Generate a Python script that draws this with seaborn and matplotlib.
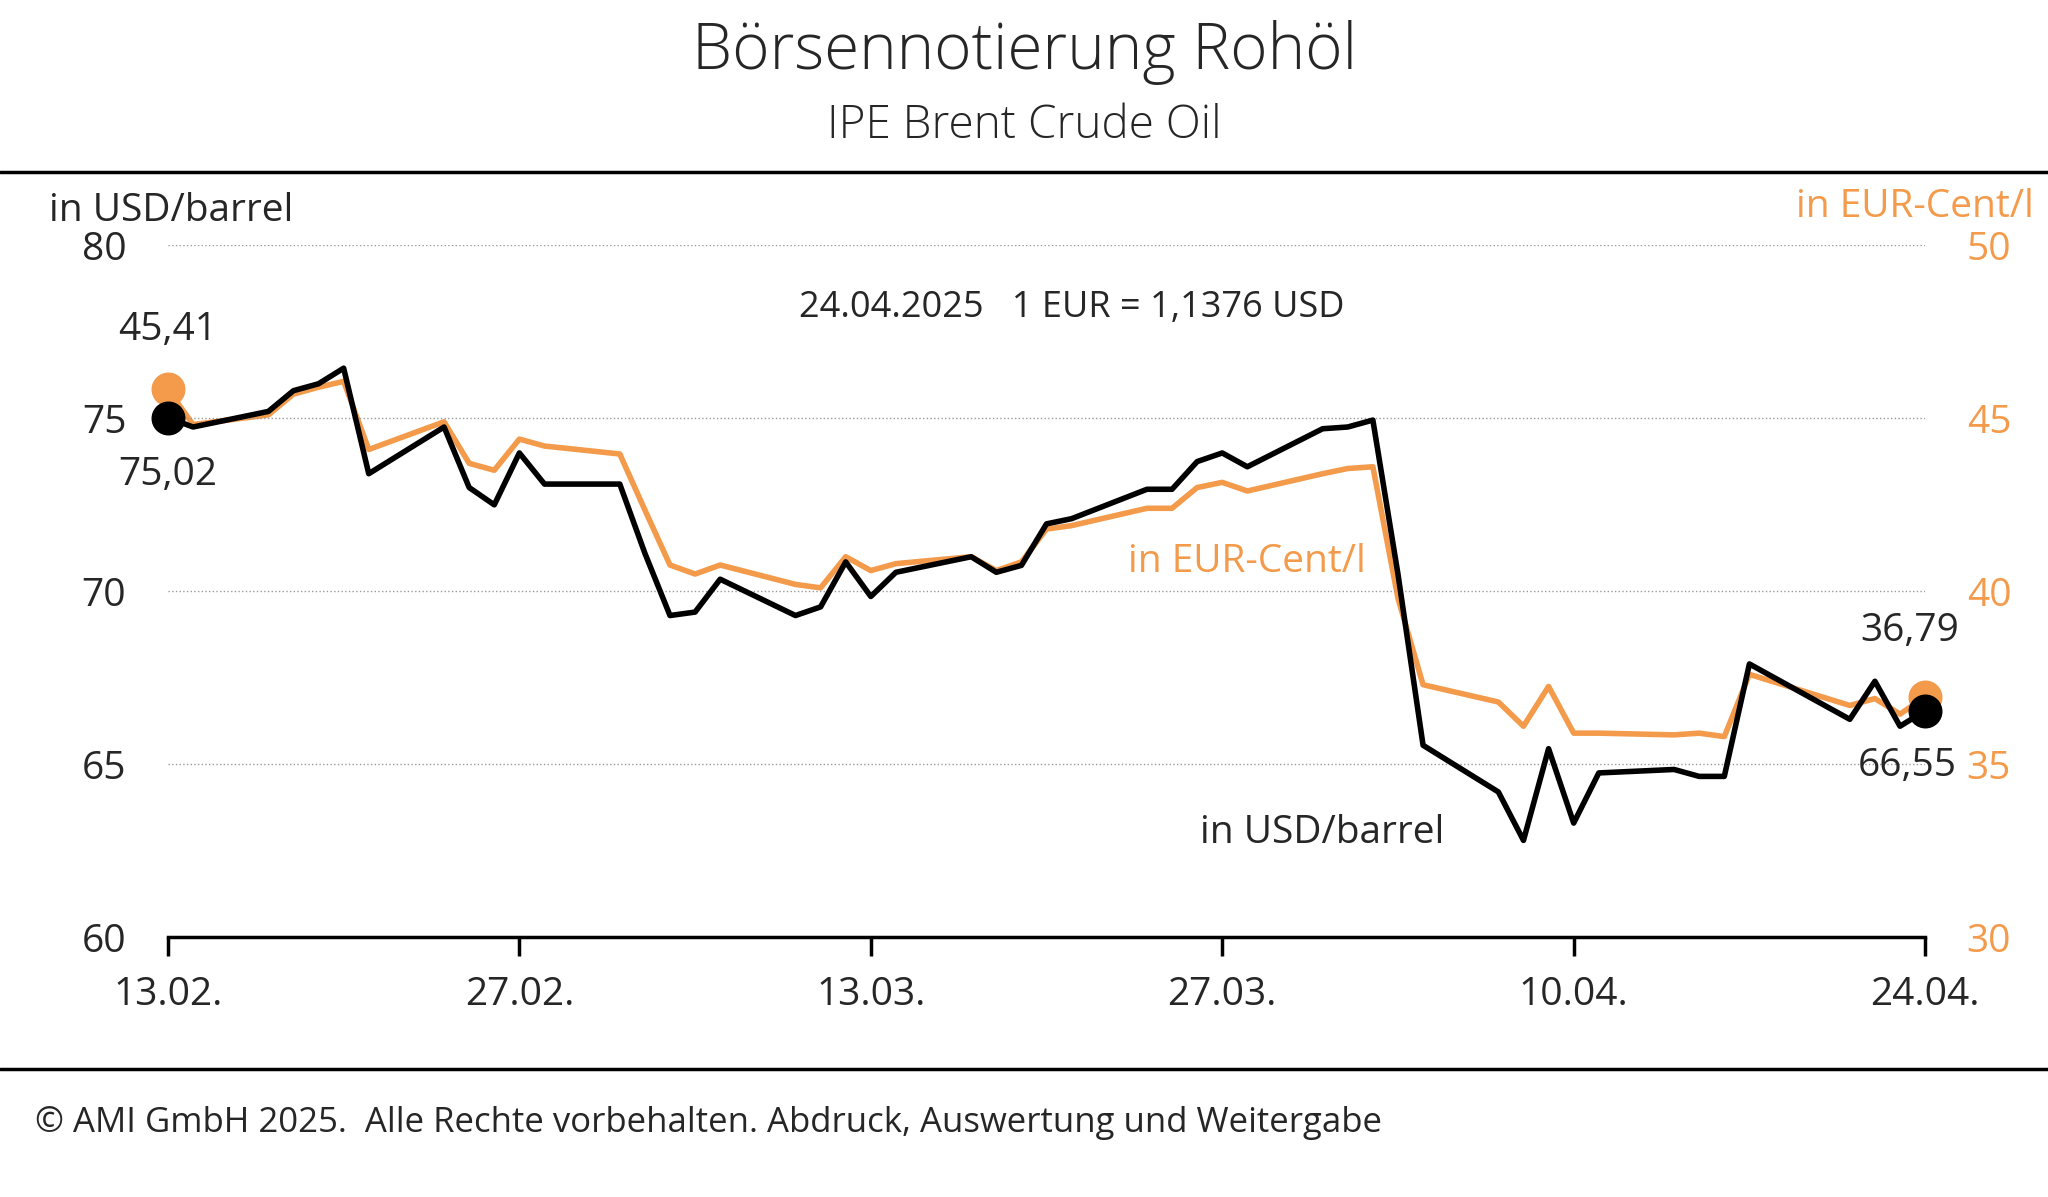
import matplotlib
matplotlib.use("Agg")
import matplotlib.pyplot as plt
import pandas as pd
import seaborn as sns

sns.set_theme(style="white")
plt.rcParams["font.family"] = "Open Sans"

ORANGE = "#F39A4B"

dates = ["2025-02-13", "2025-02-14", "2025-02-17", "2025-02-18", "2025-02-19", "2025-02-20",
         "2025-02-21", "2025-02-24", "2025-02-25", "2025-02-26", "2025-02-27", "2025-02-28",
         "2025-03-03", "2025-03-04", "2025-03-05", "2025-03-06", "2025-03-07", "2025-03-10",
         "2025-03-11", "2025-03-12", "2025-03-13", "2025-03-14", "2025-03-17", "2025-03-18",
         "2025-03-19", "2025-03-20", "2025-03-21", "2025-03-24", "2025-03-25", "2025-03-26",
         "2025-03-27", "2025-03-28", "2025-03-31", "2025-04-01", "2025-04-02", "2025-04-03",
         "2025-04-04", "2025-04-07", "2025-04-08", "2025-04-09", "2025-04-10", "2025-04-11",
         "2025-04-14", "2025-04-15", "2025-04-16", "2025-04-17", "2025-04-21", "2025-04-22",
         "2025-04-23", "2025-04-24"]
usd_barrel = [75.02, 74.75, 75.2, 75.8, 76.0, 76.45, 73.4, 74.75, 73.0, 72.5, 74.0, 73.1,
              73.1, 71.1, 69.3, 69.4, 70.35, 69.3, 69.55, 70.85, 69.85, 70.55, 71.0, 70.55,
              70.75, 71.95, 72.1, 72.95, 72.95, 73.75, 74.0, 73.6, 74.7, 74.75, 74.95, 70.5,
              65.55, 64.2, 62.8, 65.45, 63.3, 64.75, 64.85, 64.65, 64.65, 67.9, 66.3, 67.4,
              66.1, 66.55]
eur_cent_l = [45.84, 44.82, 45.1, 45.7, 45.9, 46.07, 44.1, 44.9, 43.7, 43.5, 44.4, 44.2,
              43.97, 42.35, 40.76, 40.5, 40.76, 40.2, 40.1, 41.0, 40.6, 40.8, 41.0, 40.6,
              40.85, 41.8, 41.9, 42.4, 42.4, 43.0, 43.15, 42.9, 43.4, 43.55, 43.6, 39.8,
              37.3, 36.8, 36.1, 37.25, 35.9, 35.9, 35.85, 35.9, 35.8, 37.6, 36.7, 36.9,
              36.45, 36.95]
tick_dates = ["2025-02-13", "2025-02-27", "2025-03-13", "2025-03-27", "2025-04-10", "2025-04-24"]
tick_labels = ["13.02.", "27.02.", "13.03.", "27.03.", "10.04.", "24.04."]

df = pd.DataFrame({"date": pd.to_datetime(dates), "usd": usd_barrel, "eur": eur_cent_l})

fig = plt.figure(figsize=(20.48, 11.97), dpi=100)
ax = fig.add_axes([0.082, 0.217, 0.858, 0.578])
ax2 = ax.twinx()

sns.lineplot(data=df, x="date", y="usd", ax=ax, color="black", lw=4, zorder=3)
sns.lineplot(data=df, x="date", y="eur", ax=ax2, color=ORANGE, lw=4, zorder=2)
ax.set_zorder(ax2.get_zorder() + 1); ax.patch.set_visible(False)

ax.scatter(df["date"].iloc[[0, -1]], df["usd"].iloc[[0, -1]], s=550, color="black", zorder=5, clip_on=False)
ax2.scatter(df["date"].iloc[[0, -1]], df["eur"].iloc[[0, -1]], s=550, color=ORANGE, zorder=5, clip_on=False)

x0, x1 = pd.Timestamp(tick_dates[0]), pd.Timestamp(tick_dates[-1])
ax.set_xlim(x0, x1)
ax.set_ylim(60, 80)
ax2.set_ylim(30, 50)
ax.set_yticks([60, 65, 70, 75, 80])
ax2.set_yticks([30, 35, 40, 45, 50])
ax.yaxis.grid(True, ls=":", color="#999", lw=1)
ax.set_xticks(pd.to_datetime(tick_dates))
ax.set_xticklabels(tick_labels)
for a in (ax, ax2):
    a.set_xlabel(""); a.set_ylabel("")
    for s in ("top", "left", "right", "bottom"):
        a.spines[s].set_visible(False)
ax.spines["bottom"].set_visible(True)
ax.spines["bottom"].set_color("black")
ax.spines["bottom"].set_linewidth(2.5)
ax.tick_params(axis="x", bottom=True, direction="out", length=14, width=2.5, color="black",
               labelsize=28, pad=14)
ax.tick_params(axis="y", length=0, labelsize=28, pad=30)
ax2.tick_params(axis="y", length=0, labelsize=28, pad=30, labelcolor=ORANGE)

# point labels
ax.text(x0, 77.0, "45,41", fontsize=28, ha="center", va="bottom")
ax.text(x0, 73.9, "75,02", fontsize=28, ha="center", va="top")
ax.text(x1 - pd.Timedelta(days=0.6), 68.3, "36,79", fontsize=28, ha="center", va="bottom")
ax.text(x1 - pd.Timedelta(days=0.7), 65.5, "66,55", fontsize=28, ha="center", va="top")
ax.text(pd.Timestamp("2025-03-28"), 70.85, "in EUR-Cent/l", fontsize=28, color=ORANGE, ha="center", va="center")
ax.text(pd.Timestamp("2025-03-31"), 63.0, "in USD/barrel", fontsize=28, ha="center", va="center")
ax.text(pd.Timestamp("2025-03-21"), 78.2, "24.04.2025   1 EUR = 1,1376 USD", fontsize=26, ha="center", va="center")

fig.text(0.024, 0.824, "in USD/barrel", fontsize=28, ha="left", va="center")
fig.text(0.993, 0.827, "in EUR-Cent/l", fontsize=28, ha="right", va="center", color=ORANGE)
fig.text(0.5, 0.956, "Börsennotierung Rohöl", fontsize=46, fontweight="light", ha="center", va="center")
fig.text(0.5, 0.895, "IPE Brent Crude Oil", fontsize=33, fontweight="light", ha="center", va="center")
fig.text(0.017, 0.062, "© AMI GmbH 2025.  Alle Rechte vorbehalten. Abdruck, Auswertung und Weitergabe",
         fontsize=25, ha="left", va="center")
fig.add_artist(plt.Line2D([0, 1], [0.856, 0.856], color="black", lw=2.5, transform=fig.transFigure))
fig.add_artist(plt.Line2D([0, 1], [0.107, 0.107], color="black", lw=2.5, transform=fig.transFigure))

fig.savefig("out.png", dpi=100, facecolor="white")
